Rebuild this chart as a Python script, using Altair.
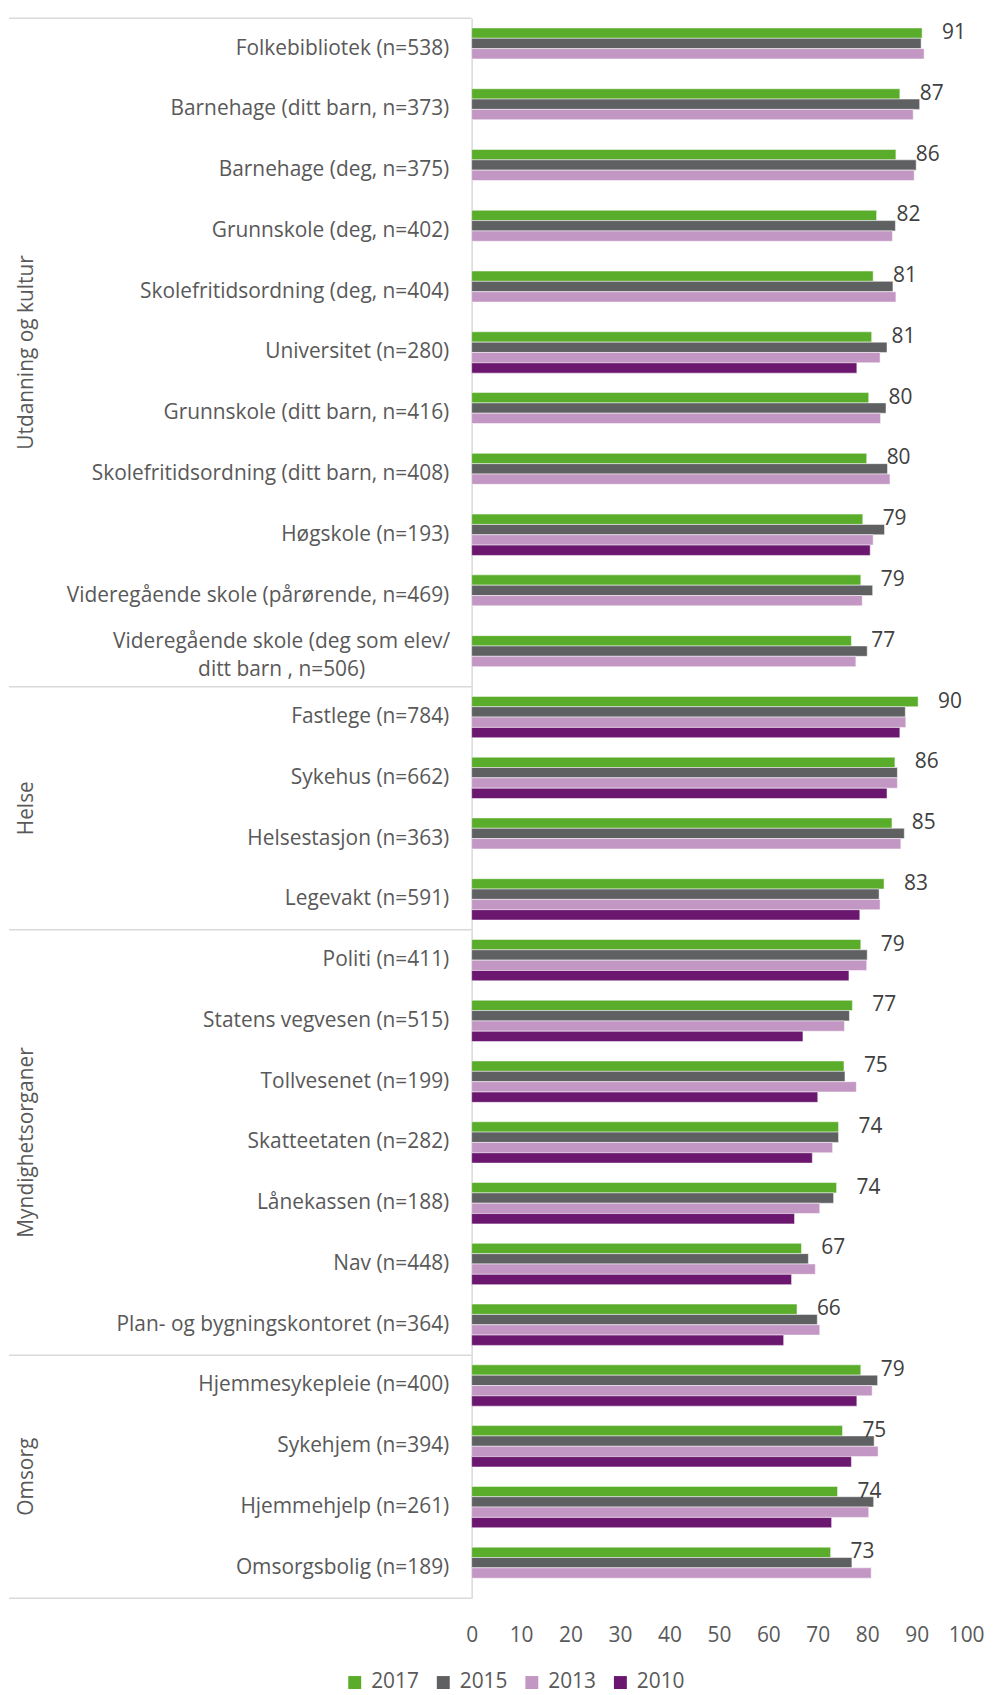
import altair as alt
import pandas as pd

categories = [
    "Folkebibliotek (n=538)",
    "Barnehage (ditt barn, n=373)",
    "Barnehage (deg, n=375)",
    "Grunnskole (deg, n=402)",
    "Skolefritidsordning (deg, n=404)",
    "Universitet (n=280)",
    "Grunnskole (ditt barn, n=416)",
    "Skolefritidsordning (ditt barn, n=408)",
    "Høgskole (n=193)",
    "Videregående skole (pårørende, n=469)",
    "Videregående skole (deg som elev/\nditt barn , n=506)",
    "Fastlege (n=784)",
    "Sykehus (n=662)",
    "Helsestasjon (n=363)",
    "Legevakt (n=591)",
    "Politi (n=411)",
    "Statens vegvesen (n=515)",
    "Tollvesenet (n=199)",
    "Skatteetaten (n=282)",
    "Lånekassen (n=188)",
    "Nav (n=448)",
    "Plan- og bygningskontoret (n=364)",
    "Hjemmesykepleie (n=400)",
    "Sykehjem (n=394)",
    "Hjemmehjelp (n=261)",
    "Omsorgsbolig (n=189)",
]
group_names = ["Utdanning og kultur", "Helse", "Myndighetsorganer", "Omsorg"]
group_sizes = [11, 4, 7, 4]

series = ["2017", "2015", "2013", "2010"]
v2017 = [91.1, 86.6, 85.8, 81.9, 81.2, 80.9, 80.3, 79.9, 79.1, 78.7, 76.8,
         90.3, 85.6, 85.0, 83.4,
         78.7, 77.0, 75.3, 74.2, 73.8, 66.7, 65.8,
         78.7, 75.0, 74.0, 72.6]
v2015 = [90.9, 90.6, 89.9, 85.7, 85.2, 84.0, 83.8, 84.1, 83.5, 81.1, 80.0,
         87.7, 86.1, 87.5, 82.4,
         80.0, 76.4, 75.5, 74.2, 73.2, 68.1, 69.9,
         82.1, 81.4, 81.3, 76.9]
v2013 = [91.5, 89.3, 89.5, 85.1, 85.8, 82.6, 82.7, 84.6, 81.2, 79.0, 77.7,
         87.8, 86.1, 86.8, 82.6,
         79.9, 75.4, 77.8, 73.0, 70.4, 69.5, 70.4,
         81.0, 82.2, 80.3, 80.8]
v2010 = [None, None, None, None, None, 77.9, None, None, 80.6, None, None,
         86.6, 84.0, None, 78.5,
         76.3, 67.0, 70.0, 68.9, 65.3, 64.7, 63.1,
         77.9, 76.8, 72.8, None]
x_ticks = [0, 10, 20, 30, 40, 50, 60, 70, 80, 90, 100]

colors = ["#5aac2b", "#5f6062", "#c397c3", "#6b1770"]
FONT = "Open Sans"
LABEL_COLOR = "#595959"

rows = []
for i, c in enumerate(categories):
    for s, vals in zip(series, [v2017, v2015, v2013, v2010]):
        if vals[i] is not None:
            rows.append({"cat": c, "series": s, "value": vals[i]})
df = pd.DataFrame(rows)

# group boundaries and group label anchors
starts = []
mid_odd, mid_even = [], []
idx = 0
for name, n in zip(group_names, group_sizes):
    starts.append(categories[idx])
    if n % 2:
        mid_odd.append({"cat": categories[idx + n // 2], "group": name})
    else:
        mid_even.append({"cat": categories[idx + n // 2], "group": name})
    idx += n

multi = [c for c in categories if "\n" in c]

y_scale = alt.Scale(domain=categories, paddingInner=0, paddingOuter=0)
yoff_scale = alt.Scale(domain=series, paddingInner=0, paddingOuter=0.94)
x_scale = alt.Scale(domain=[0, 100], nice=False)

bars = alt.Chart(df).mark_bar(stroke="white", strokeWidth=0.5).encode(
    x=alt.X("value:Q", scale=x_scale,
            axis=alt.Axis(values=x_ticks, grid=False, domain=False, ticks=False,
                          labelFlush=False, labelPadding=27, labelFontSize=21,
                          labelFont=FONT, labelColor=LABEL_COLOR, title=None)),
    y=alt.Y("cat:N", scale=y_scale,
            axis=alt.Axis(domain=True, domainColor="#d9d9d9", domainWidth=1.5,
                          ticks=False, labelPadding=23, labelFontSize=21,
                          labelFont=FONT, labelColor=LABEL_COLOR, labelLimit=0,
                          labelAlign="right",
                          labelExpr="indexof(datum.label, '\\n') >= 0 ? '' : datum.label",
                          title=None)),
    yOffset=alt.YOffset("series:N", scale=yoff_scale),
    color=alt.Color("series:N", scale=alt.Scale(domain=series, range=colors),
                    legend=alt.Legend(orient="none", legendX=-128, legendY=1662,
                                      direction="horizontal", title=None,
                                      symbolType="square", symbolSize=169,
                                      symbolStrokeWidth=0, symbolOpacity=1,
                                      labelFontSize=21, labelFont=FONT,
                                      labelColor=LABEL_COLOR, labelOffset=6,
                                      columnPadding=13)),
)

labels = alt.Chart(df[df["series"] == "2017"]).mark_text(
    align="left", baseline="middle", dx=20, fontSize=21, font=FONT, color="#404040"
).encode(
    x=alt.X("value:Q", scale=x_scale),
    y=alt.Y("cat:N", scale=y_scale, title=None),
    yOffset=alt.YOffset("series:N", scale=yoff_scale),
    text=alt.Text("value:Q", format=".0f"),
)

# two-line category label, lines centred on each other
multi_lab = alt.Chart(pd.DataFrame({"cat": multi})).mark_text(
    align="center", baseline="middle", lineBreak="\n", lineHeight=28, dy=-14,
    fontSize=21, font=FONT, color=LABEL_COLOR
).encode(
    y=alt.Y("cat:N", scale=y_scale, title=None),
    x=alt.value(-191),
    text="cat:N",
)

seps = alt.Chart(pd.DataFrame({"cat": starts})).mark_rule(
    color="#d9d9d9", strokeWidth=1.5
).encode(
    y=alt.Y("cat:N", scale=y_scale, bandPosition=0, title=None),
    x=alt.value(-465), x2=alt.value(0),
)
sep_end = alt.Chart(pd.DataFrame({"cat": [categories[-1]]})).mark_rule(
    color="#d9d9d9", strokeWidth=1.5
).encode(
    y=alt.Y("cat:N", scale=y_scale, bandPosition=1, title=None),
    x=alt.value(-465), x2=alt.value(0),
)

glab_odd = alt.Chart(pd.DataFrame(mid_odd)).mark_text(
    angle=270, align="center", baseline="middle", fontSize=21, font=FONT, color=LABEL_COLOR
).encode(
    y=alt.Y("cat:N", scale=y_scale, bandPosition=0.5, title=None),
    x=alt.value(-447),
    text="group:N",
)
glab_even = alt.Chart(pd.DataFrame(mid_even)).mark_text(
    angle=270, align="center", baseline="middle", fontSize=21, font=FONT, color=LABEL_COLOR
).encode(
    y=alt.Y("cat:N", scale=y_scale, bandPosition=0, title=None),
    x=alt.value(-447),
    text="group:N",
)

chart = alt.layer(seps, sep_end, bars, labels, multi_lab, glab_odd, glab_even).properties(
    width=497, height=1588,
    autosize=alt.AutoSizeParams(type="none"),
    padding={"left": 466, "top": 6, "right": 25, "bottom": 95},
).configure_view(stroke=None)

chart.save("out.html", embed_options={"renderer": "svg", "actions": False})
